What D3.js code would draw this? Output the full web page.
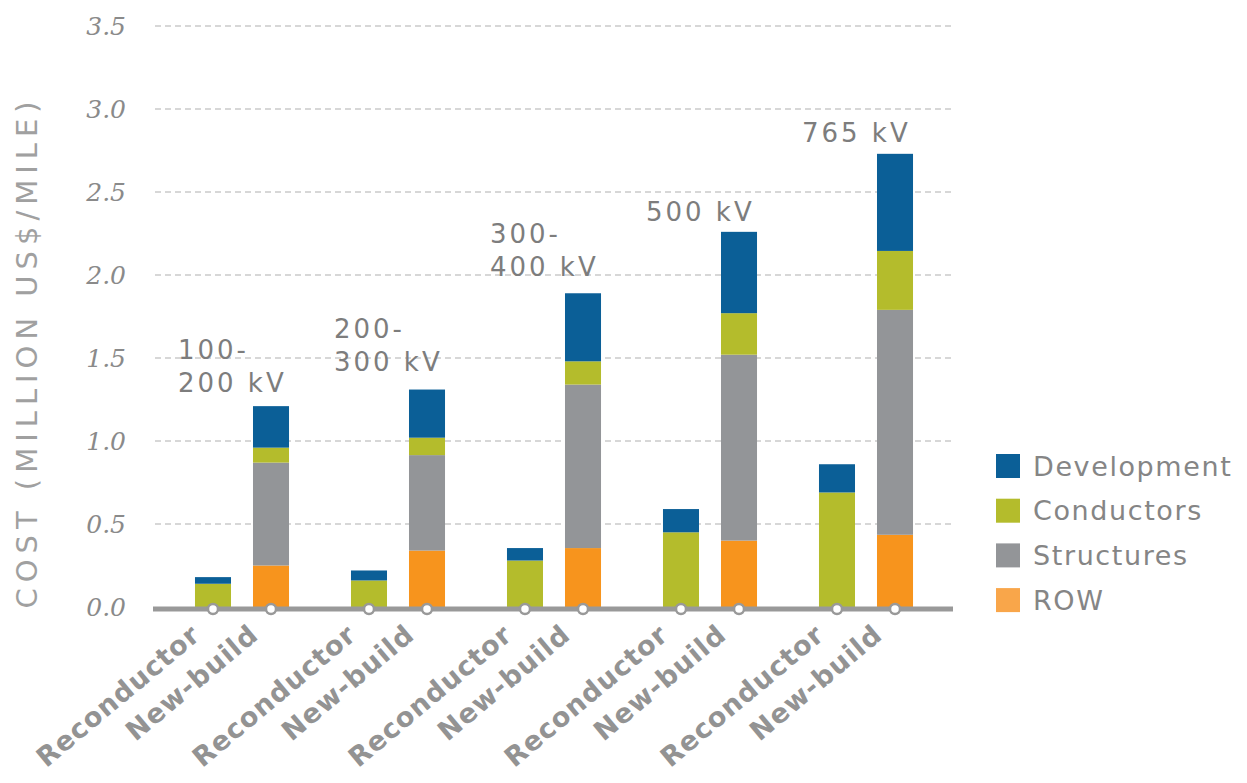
<!DOCTYPE html>
<html><head><meta charset="utf-8">
<script src="https://cdn.jsdelivr.net/npm/d3@7"></script>
<style>body{margin:0;background:#fff}svg{display:block}</style>
</head><body><svg id="c" width="1247" height="783"></svg>
<script>
const groups = ["100-200 kV","200-300 kV","300-400 kV","500 kV","765 kV"];
const groupLabels = [["100-","200 kV"],["200-","300 kV"],["300-","400 kV"],["500 kV"],["765 kV"]];
const types = ["Reconductor","New-build"];
const seriesKeys = ["ROW","Structures","Conductors","Development"];
// values per bar (group, type order)
const ROW =         [0,0.25, 0,0.34, 0,0.355, 0,0.40, 0,0.435];
const Structures =  [0,0.62, 0,0.575, 0,0.985, 0,1.12, 0,1.355];
const Conductors =  [0.14,0.09, 0.16,0.105, 0.28,0.14, 0.45,0.25, 0.69,0.355];
const Development = [0.04,0.25, 0.06,0.29, 0.075,0.41, 0.14,0.49, 0.17,0.585];
const yTicks = [0,0.5,1.0,1.5,2.0,2.5,3.0,3.5];
const colors = {Development:"#0b5f97",Conductors:"#b4bc2c",Structures:"#939598",ROW:"#f7941d"};
const legendColors = {Development:"#0b5f97",Conductors:"#b4bc2c",Structures:"#939598",ROW:"#f9a64a"};

const svg = d3.select("#c");
const y = d3.scaleLinear().domain([0,3.5]).range([607,26]);
const xg = d3.scaleBand().domain(groups).range([164,944]).padding(0);
const xt = d3.scaleBand().domain(types).range([0,xg.bandwidth()]).paddingInner(0.379).paddingOuter(0.534);

const rows = [];
groups.forEach((g,gi)=>types.forEach((t,ti)=>{
  const i = gi*2+ti;
  rows.push({g,t,ROW:ROW[i],Structures:Structures[i],Conductors:Conductors[i],Development:Development[i]});
}));
const stacked = d3.stack().keys(seriesKeys)(rows);
const cx = d => xg(d.g)+xt(d.t)+xt.bandwidth()/2;

// grid
svg.append("g").selectAll("line").data(yTicks.filter(d=>d>0)).join("line")
  .attr("x1",155).attr("x2",953).attr("y1",d=>y(d)).attr("y2",d=>y(d))
  .attr("stroke","#b0b0b0").attr("stroke-width",1.2).attr("stroke-dasharray","6,4");

// y tick labels
svg.append("g").selectAll("text").data(yTicks).join("text")
  .attr("x",126).attr("y",d=>y(d)).attr("dy","0.36em").attr("text-anchor","end")
  .attr("font-family","DejaVu Serif").attr("font-style","italic").attr("font-size",25)
  .attr("fill","#8a8a8a").text(d=>d.toFixed(1));

// y title
svg.append("text").attr("transform","translate(37,352) rotate(-90)")
  .attr("text-anchor","middle").attr("font-family","DejaVu Sans").attr("font-size",29)
  .attr("letter-spacing",6).attr("fill","#a0a0a0").text("COST (MILLION US$/MILE)");

// bars
svg.append("g").selectAll("g").data(stacked).join("g").attr("fill",s=>colors[s.key])
  .selectAll("rect").data(s=>s).join("rect")
  .attr("x",d=>xg(d.data.g)+xt(d.data.t)).attr("width",xt.bandwidth())
  .attr("y",d=>y(d[1])).attr("height",d=>Math.max(0,y(d[0])-y(d[1])));

// axis line
svg.append("line").attr("x1",153).attr("x2",953).attr("y1",609).attr("y2",609)
  .attr("stroke","#999").attr("stroke-width",5);
svg.append("g").selectAll("circle").data(rows).join("circle")
  .attr("cx",cx).attr("cy",609).attr("r",5)
  .attr("fill","#fff").attr("stroke","#999").attr("stroke-width",2.5);

// x labels
svg.append("g").selectAll("text").data(rows).join("text")
  .attr("transform",d=>`translate(${cx(d)-24},622) rotate(-40)`)
  .attr("text-anchor","end").attr("dy","0.75em")
  .attr("font-family","DejaVu Sans").attr("font-weight","bold").attr("font-size",27)
  .attr("letter-spacing",1).attr("fill","#939393").text(d=>d.t);

// group labels
const glTop = [350,329,234,212,133];
svg.append("g").selectAll("text").data(groups).join("text")
  .attr("y",(d,i)=>glTop[i])
  .attr("font-family","DejaVu Sans").attr("font-size",26).attr("letter-spacing",3).attr("fill","#7d7d7d")
  .each(function(d,i){
    d3.select(this).selectAll("tspan").data(groupLabels[i]).join("tspan")
      .attr("x",xg(d)+xt("Reconductor")-17).attr("dy",(l,j)=>j?"1.28em":"0.35em").text(l=>l);
  });

// legend
const lg = svg.append("g").selectAll("g").data(["Development","Conductors","Structures","ROW"]).join("g")
  .attr("transform",(d,i)=>`translate(996,${466+i*44.7})`);
lg.append("rect").attr("x",0).attr("y",-12).attr("width",24).attr("height",24).attr("fill",d=>legendColors[d]);
lg.append("text").attr("x",37).attr("dy","0.36em").attr("font-family","DejaVu Sans")
  .attr("font-size",27).attr("letter-spacing",1.6).attr("fill","#858585").text(d=>d);
</script></body></html>
